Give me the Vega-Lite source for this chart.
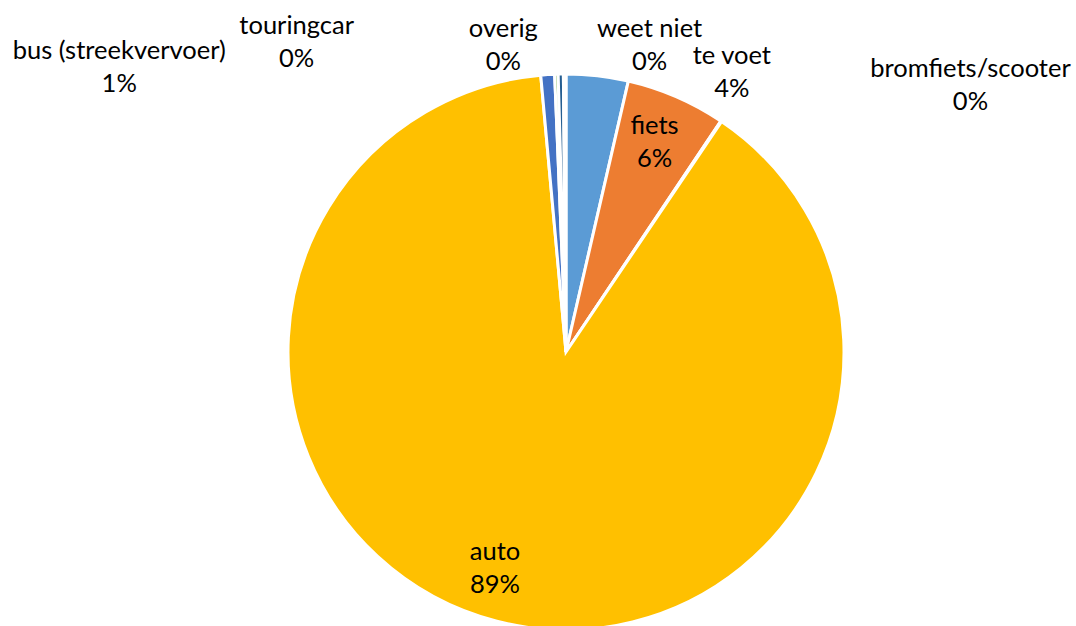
{
  "$schema": "https://vega.github.io/schema/vega-lite/v6.json",
  "width": 1020,
  "height": 548,
  "autosize": {"type": "none"},
  "padding": {"left": 56, "top": 78, "right": 0, "bottom": 0},
  "background": "white",
  "config": {"view": {"stroke": null}},
  "data": {
    "values": [
      {"category": "te voet", "share": 0.036, "rank": 1},
      {"category": "fiets", "share": 0.058, "rank": 2},
      {"category": "bromfiets/scooter", "share": 0.0005, "rank": 3},
      {"category": "auto", "share": 0.891, "rank": 4},
      {"category": "bus (streekvervoer)", "share": 0.008, "rank": 5},
      {"category": "touringcar", "share": 0.002, "rank": 6},
      {"category": "overig", "share": 0.003, "rank": 7},
      {"category": "weet niet", "share": 0.0015, "rank": 8}
    ]
  },
  "encoding": {
    "theta": {"field": "share", "type": "quantitative", "stack": true},
    "order": {"field": "rank", "type": "quantitative"}
  },
  "layer": [
    {
      "mark": {"type": "arc", "outerRadius": 278, "stroke": "white", "strokeWidth": 3},
      "encoding": {
        "color": {
          "field": "category",
          "type": "nominal",
          "scale": {
            "domain": ["te voet", "fiets", "bromfiets/scooter", "auto", "bus (streekvervoer)", "touringcar", "overig", "weet niet"],
            "range": ["#5B9BD5", "#ED7D31", "#A5A5A5", "#FFC000", "#4472C4", "#70AD47", "#255E91", "#9E480E"]
          },
          "legend": null
        }
      }
    },
    {
      "mark": {
        "type": "text",
        "font": "Lato",
        "fontSize": 25.5,
        "color": "#000000",
        "align": "center",
        "baseline": "alphabetic",
        "radius": {"expr": "datum.category === 'fiets' ? 228 : datum.category === 'auto' ? 221 : 300"},
        "dx": {"expr": "datum.category === 'te voet' ? 132 : datum.category === 'fiets' ? -2 : datum.category === 'bromfiets/scooter' ? 237 : datum.category === 'auto' ? -16 : datum.category === 'bus (streekvervoer)' ? -427 : datum.category === 'touringcar' ? -259 : datum.category === 'overig' ? -57 : 85"},
        "dy": {"expr": "datum.category === 'te voet' ? 10 : datum.category === 'fiets' ? -9 : datum.category === 'bromfiets/scooter' ? -26 : datum.category === 'auto' ? -6 : datum.category === 'bus (streekvervoer)' ? 6 : datum.category === 'touringcar' ? -18 : datum.category === 'overig' ? -15 : -15"}
      },
      "encoding": {
        "detail": {"field": "category", "type": "nominal"},
        "text": {"field": "category", "type": "nominal"}
      }
    },
    {
      "mark": {
        "type": "text",
        "font": "Lato",
        "fontSize": 25.5,
        "color": "#000000",
        "align": "center",
        "baseline": "alphabetic",
        "radius": {"expr": "datum.category === 'fiets' ? 228 : datum.category === 'auto' ? 221 : 300"},
        "dx": {"expr": "datum.category === 'te voet' ? 132 : datum.category === 'fiets' ? -2 : datum.category === 'bromfiets/scooter' ? 237 : datum.category === 'auto' ? -16 : datum.category === 'bus (streekvervoer)' ? -427 : datum.category === 'touringcar' ? -259 : datum.category === 'overig' ? -57 : 85"},
        "dy": {"expr": "datum.category === 'te voet' ? 43 : datum.category === 'fiets' ? 24 : datum.category === 'bromfiets/scooter' ? 7 : datum.category === 'auto' ? 27 : datum.category === 'bus (streekvervoer)' ? 39 : datum.category === 'touringcar' ? 15 : datum.category === 'overig' ? 18 : 18"}
      },
      "encoding": {
        "detail": {"field": "category", "type": "nominal"},
        "text": {"field": "share", "type": "quantitative", "format": ".0%"}
      }
    }
  ]
}
